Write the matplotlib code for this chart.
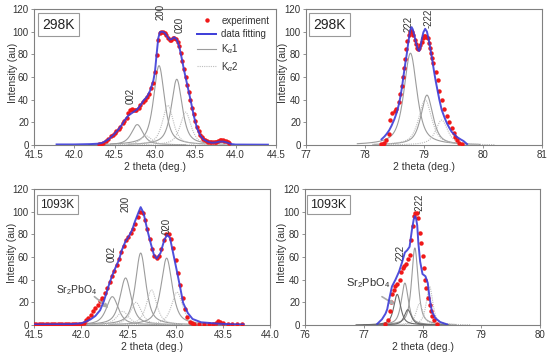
import numpy as np
import matplotlib
matplotlib.use("Agg")
import matplotlib.pyplot as plt
from matplotlib.lines import Line2D

plt.rcParams['font.family'] = ['Liberation Sans', 'DejaVu Sans']
plt.rcParams['mathtext.fontset'] = 'custom'
plt.rcParams['mathtext.rm'] = 'Liberation Sans'
plt.rcParams['mathtext.it'] = 'Liberation Sans:italic'

# ---------------- data: top-left (298K, 41.5-44.5) ----------------
tl_exp_x = [42.30, 42.33, 42.36, 42.39, 42.42, 42.45, 42.48, 42.50, 42.52, 42.55, 42.57, 42.60, 42.62,
            42.65, 42.67, 42.69, 42.71, 42.73, 42.75, 42.77, 42.80, 42.82, 42.85, 42.87, 42.90, 42.92,
            42.95, 42.97, 43.00, 43.02, 43.04, 43.06, 43.08, 43.10, 43.12, 43.14, 43.16, 43.18, 43.20,
            43.22, 43.24, 43.26, 43.28, 43.30, 43.32, 43.34, 43.36, 43.38, 43.40, 43.42, 43.44, 43.46,
            43.48, 43.50, 43.52, 43.54, 43.56, 43.58, 43.60, 43.62, 43.64, 43.66, 43.68, 43.70, 43.72,
            43.74, 43.76, 43.78, 43.80, 43.82, 43.84, 43.86, 43.88, 43.90, 43.92]
tl_exp_y = [0.5, 1, 2, 3.5, 5.5, 7.5, 9, 10.5, 12, 14.5, 16, 19, 21,
            24, 28, 31, 32, 31, 30.5, 31, 33, 35, 38, 40, 42, 45,
            50, 55, 64, 79, 93, 99, 100, 99.5, 98.5, 97, 94.5, 93, 93,
            94, 94.5, 93.5, 91, 87, 81, 74, 67, 60, 53, 47, 40, 33,
            27, 21, 16, 12, 9, 7, 5.5, 4.5, 3.5, 3, 2.5, 2.5, 2.5,
            2.5, 3, 3.5, 4, 4, 4, 3.5, 3.5, 3, 1.5]
tl_fit_x = [41.78, 42.0, 42.2, 42.3, 42.35, 42.4, 42.45, 42.5, 42.55, 42.59, 42.63, 42.67, 42.7, 42.74,
            42.78, 42.82, 42.86, 42.9, 42.94, 42.98, 43.0, 43.02, 43.04, 43.06, 43.09, 43.12, 43.15,
            43.18, 43.21, 43.24, 43.27, 43.3, 43.33, 43.36, 43.4, 43.44, 43.48, 43.52, 43.56, 43.6,
            43.65, 43.7, 43.75, 43.8, 43.85, 43.9, 43.95, 44.0, 44.4]
tl_fit_y = [0.5, 0.5, 0.8, 1.2, 2, 4, 6.5, 10, 14, 18, 22.5, 26, 27.5, 29.5,
            31.5, 35, 39.5, 42.5, 48, 57, 65, 80, 94, 99.5, 100, 99, 96,
            93, 93.5, 95, 93, 87, 77, 66, 53, 40, 26, 15, 8.5, 5,
            3, 2, 2.2, 3, 3, 2, 0.8, 0.4, 0.3]
tl_ka1 = [(42.78, 18, 0.17), (43.05, 70, 0.16), (43.27, 58, 0.16)]
tl_ka2 = [(42.89, 8, 0.17), (43.16, 35, 0.16), (43.38, 29, 0.16)]
tl_labels = [("002", 42.70, 43), ("200", 43.07, 117), ("020", 43.31, 106)]

# ---------------- data: top-right (298K, 77-81) ----------------
tr_exp_x = [78.27, 78.30, 78.33, 78.36, 78.40, 78.43, 78.46, 78.50, 78.53, 78.57, 78.60, 78.62, 78.64,
            78.66, 78.68, 78.70, 78.72, 78.74, 78.76, 78.78, 78.80, 78.82, 78.84, 78.86, 78.88, 78.90,
            78.92, 78.94, 78.96, 78.98, 79.00, 79.02, 79.04, 79.06, 79.08, 79.10, 79.12, 79.14, 79.16,
            79.20, 79.23, 79.26, 79.30, 79.34, 79.39, 79.43, 79.47, 79.50, 79.53, 79.56, 79.60, 79.64]
tr_exp_y = [0.5, 0.8, 2, 4, 10, 22, 28, 30, 32, 38, 45, 52, 60,
            68, 76, 85, 92, 97, 100, 101, 100, 97, 93, 89, 86, 85,
            86, 88, 91, 94, 96, 96, 95.5, 94, 90, 86, 81, 77, 72,
            64, 57, 48, 40, 32, 26, 20, 15, 11, 7, 4, 1.5, 0.5]
tr_fit_x = [78.28, 78.33, 78.37, 78.41, 78.45, 78.5, 78.54, 78.57, 78.6, 78.63, 78.65, 78.68, 78.71,
            78.73, 78.75, 78.77, 78.79, 78.81, 78.84, 78.87, 78.9, 78.92, 78.94, 78.96, 78.99, 79.02,
            79.05, 79.08, 79.11, 79.14, 79.17, 79.2, 79.23, 79.26, 79.3, 79.35, 79.39, 79.43, 79.47,
            79.52, 79.56, 79.62, 79.67, 79.73]
tr_fit_y = [5, 7.5, 10, 13, 17, 23, 29, 35, 42.5, 52, 60, 71, 81,
            89, 96, 102, 104, 102, 96, 89, 84, 83, 86, 93, 99.5, 102.5,
            100, 93, 84, 75, 65, 56, 48, 40, 31, 24, 19, 15, 11.5,
            9, 7, 5, 3.5, 0.8]
tr_ka1 = [(78.77, 81, 0.26), (79.05, 44, 0.24)]
tr_ka2 = [(79.02, 40, 0.26), (79.30, 22, 0.24)]
tr_labels = [("222", 78.74, 107), ("-222", 79.08, 112)]

# ---------------- data: bottom-left (1093K, 41.5-44.0) ----------------
bl_exp_x = [41.500, 41.525, 41.550, 41.575, 41.600, 41.625, 41.650, 41.675, 41.700, 41.725, 41.750,
            41.775, 41.800, 41.825, 41.850, 41.875, 41.900, 41.925, 41.950, 41.975, 42.000,
            42.025, 42.050, 42.075, 42.100, 42.125, 42.150, 42.175, 42.200, 42.225, 42.250, 42.275,
            42.300, 42.325, 42.350, 42.375, 42.400, 42.425, 42.450, 42.475, 42.500, 42.525, 42.550,
            42.575, 42.600, 42.625, 42.650, 42.675, 42.700, 42.725, 42.750, 42.775, 42.800, 42.825,
            42.850, 42.875, 42.900, 42.925, 42.950, 42.975, 43.000, 43.025, 43.050, 43.075, 43.100,
            43.125, 43.150, 43.175, 43.200, 43.250, 43.300, 43.350, 43.400, 43.425, 43.450, 43.475,
            43.500, 43.550, 43.600, 43.650, 43.700]
bl_exp_y = [0.5, 0.5, 0.5, 0.5, 0.5, 0.5, 0.5, 0.5, 0.5, 0.5, 0.5,
            0.5, 0.5, 0.5, 0.5, 0.5, 0.5, 0.5, 0.5, 0.5, 0.8,
            2, 4, 6.5, 9, 12, 15, 18, 21, 24, 28, 33,
            38, 43, 48, 53, 58, 64, 70, 75, 78, 81, 85,
            89, 95, 100, 99, 93, 85, 76, 67, 61, 59, 61,
            67, 75, 80, 80.5, 76, 68, 57, 46, 35, 24, 14,
            7, 3, 1.5, 0.5, 0.5, 0.5, 0.5, 0.6, 2, 3.5, 3,
            1.5, 0.5, 0.5, 0.5, 0.5]
bl_fit_x = [41.5, 41.9, 41.96, 42.0, 42.05, 42.1, 42.15, 42.2, 42.24, 42.27, 42.3, 42.33, 42.36, 42.4,
            42.43, 42.47, 42.5, 42.54, 42.57, 42.61, 42.63, 42.66, 42.7, 42.74, 42.77, 42.8, 42.84,
            42.88, 42.91, 42.94, 42.97, 43.01, 43.05, 43.08, 43.13, 43.18, 43.27, 43.45, 43.6, 43.72]
bl_fit_y = [0.5, 0.8, 1.2, 1.5, 3, 5, 8, 13, 21, 29, 37, 44, 50, 57.5,
            66, 74, 77.5, 84, 91.5, 100, 104, 99, 84, 71, 62, 58.5, 63.5,
            75, 79.5, 77, 65, 49, 32.5, 19.5, 10.5, 5.3, 2.4, 1.2, 0.6, 0.5]
bl_ka1 = [(42.33, 25, 0.15), (42.47, 41.5, 0.14), (42.63, 63.5, 0.13), (42.905, 59, 0.14)]
bl_ka2 = [(42.44, 12, 0.15), (42.58, 20, 0.14), (42.745, 31, 0.13), (43.015, 29, 0.14)]
bl_labels = [("002", 42.32, 63), ("200", 42.47, 107), ("020", 42.91, 87)]

# ---------------- data: bottom-right (1093K, 76-80) ----------------
br_exp_x = [77.36, 77.41, 77.44, 77.46, 77.48, 77.51, 77.54, 77.57, 77.61, 77.64, 77.66, 77.68, 77.72,
            77.75, 77.79, 77.81, 77.83, 77.85, 77.88, 77.91, 77.92, 77.95, 77.97, 78.00, 78.02, 78.04,
            78.06, 78.09, 78.12, 78.14, 78.17, 78.20, 78.25]
br_exp_y = [1, 4, 12, 20, 27, 31, 34, 36, 40, 47, 50, 52, 54,
            58, 62, 75, 87, 96, 99, 99, 94, 81, 72.5, 61, 50, 40,
            33, 24, 18, 12, 7.6, 4, 1]
br_fit_x = [77.23, 77.31, 77.37, 77.40, 77.43, 77.48, 77.54, 77.60, 77.65, 77.70, 77.74, 77.78, 77.82,
            77.85, 77.87, 77.89, 77.91, 77.93, 77.96, 78.00, 78.05, 78.09, 78.12, 78.16, 78.22, 78.30,
            78.42]
br_fit_y = [1, 5, 10, 14, 22, 34, 40, 47, 55, 64, 66, 69, 84,
            93, 96, 94, 88, 72, 56, 45, 43, 37, 24, 12, 6, 2.6,
            0.5]
br_ka1 = [(77.70, 37, 0.14), (77.87, 68, 0.13)]
br_ka2 = [(77.95, 19, 0.14), (78.12, 34, 0.13)]
br_phase = [(77.57, 27, 0.14), (77.75, 13.5, 0.14)]
br_labels = [("222", 77.62, 64), ("-222", 77.95, 107)]

RED = '#f01818'
BLUE = '#3c3cd8'
GRAY1 = '#9c9c9c'
GRAY2 = '#bdbdbd'
DARK = '#6a6a6a'
SPINE = '#808080'


def pv(x, c, h, w, eta=0.7):
    g = np.exp(-4 * np.log(2) * ((x - c) / w) ** 2)
    l = 1.0 / (1 + 4 * ((x - c) / w) ** 2)
    return h * (eta * l + (1 - eta) * g)


fig = plt.figure(figsize=(5.5, 3.61), dpi=100)

panels = [
    dict(pos=[34/550, 1-145/361, 242/550, 136/361], xlim=(41.5, 44.5), xt=np.arange(41.5, 44.51, 0.5), fmt='%.1f',
         ex=tl_exp_x, ey=tl_exp_y, fx=tl_fit_x, fy=tl_fit_y, k1=tl_ka1, k2=tl_ka2, ph=[], labels=tl_labels,
         tag='298K', tagsize=10, span=0.6, ylx=-0.068),
    dict(pos=[306/550, 1-145/361, 236/550, 136/361], xlim=(77, 81), xt=np.arange(77, 81.1, 1), fmt='%d',
         ex=tr_exp_x, ey=tr_exp_y, fx=tr_fit_x, fy=tr_fit_y, k1=tr_ka1, k2=tr_ka2, ph=[], labels=tr_labels,
         tag='298K', tagsize=10, span=0.9, ylx=-0.075),
    dict(pos=[34/550, 1-325/361, 236/550, 136/361], xlim=(41.5, 44.0), xt=np.arange(41.5, 44.01, 0.5), fmt='%.1f',
         ex=bl_exp_x, ey=bl_exp_y, fx=bl_fit_x, fy=bl_fit_y, k1=bl_ka1, k2=bl_ka2, ph=[], labels=bl_labels,
         tag='1093K', tagsize=8.5, span=0.6, ylx=-0.07),
    dict(pos=[305/550, 1-325/361, 235/550, 136/361], xlim=(76, 80), xt=np.arange(76, 80.1, 1), fmt='%d',
         ex=br_exp_x, ey=br_exp_y, fx=br_fit_x, fy=br_fit_y, k1=br_ka1, k2=br_ka2, ph=br_phase, labels=br_labels,
         tag='1093K', tagsize=9, span=0.7, ylx=-0.075),
]

axes = []
for p in panels:
    ax = fig.add_axes(p['pos'])
    axes.append(ax)
    for (c, h, w) in p['k1']:
        xx = np.linspace(c - p['span'], c + p['span'], 300)
        ax.plot(xx, pv(xx, c, h, w), color=GRAY1, lw=0.8, zorder=2)
    for (c, h, w) in p['k2']:
        xx = np.linspace(c - p['span'], c + p['span'], 300)
        ax.plot(xx, pv(xx, c, h, w), color=GRAY2, lw=0.8, ls=(0, (1, 1)), zorder=2)
    for (c, h, w) in p['ph']:
        xx = np.linspace(c - p['span'], c + p['span'], 300)
        ax.plot(xx, pv(xx, c, h, w), color=DARK, lw=0.8, zorder=2)
    ax.plot(p['ex'], p['ey'], 'o', color=RED, ms=3.2, mec='none', zorder=3)
    ax.plot(p['fx'], p['fy'], '-', color=BLUE, lw=1.4, zorder=4, alpha=0.9)
    ax.set_xlim(*p['xlim'])
    ax.set_ylim(0, 120)
    ax.set_xticks(p['xt'])
    ax.set_xticklabels([p['fmt'] % v for v in p['xt']])
    ax.set_yticks(np.arange(0, 121, 20))
    for s in ax.spines.values():
        s.set_color(SPINE)
        s.set_linewidth(0.8)
    ax.tick_params(direction='out', length=2.5, width=0.6, color=SPINE, labelsize=7, labelcolor='#333333', pad=1.2)
    ax.set_xlabel('2 theta (deg.)', fontsize=7.5, color='#333333', labelpad=1)
    ax.set_ylabel('Intensity (au)', fontsize=7.5, color='#333333')
    ax.yaxis.set_label_coords(p['ylx'], 0.53)
    for (t, x, y) in p['labels']:
        ax.text(x, y, t, rotation=90, ha='center', va='center', fontsize=7, color='#333333', clip_on=False)
    ax.text(0.1, 0.885, p['tag'], transform=ax.transAxes, ha='center', va='center', fontsize=p['tagsize'],
            color='#222222', bbox=dict(boxstyle='square,pad=0.3', fc='white', ec='#999999', lw=0.8))

# Sr2PbO4 annotations
axes[2].text(41.95, 31, 'Sr$_2$PbO$_4$', fontsize=7.5, color='#333333', ha='center', va='center', zorder=6)
axes[2].annotate('', xy=(42.29, 15), xytext=(42.14, 25),
                 arrowprops=dict(arrowstyle='-|>', color='#aaaaaa', lw=1.2, mutation_scale=6, shrinkA=0, shrinkB=0))
axes[3].text(77.08, 37, 'Sr$_2$PbO$_4$', fontsize=8, color='#333333', ha='center', va='center', zorder=6)
axes[3].annotate('', xy=(77.53, 18), xytext=(77.31, 25),
                 arrowprops=dict(arrowstyle='-|>', color='#aaaaaa', lw=1.2, mutation_scale=6, shrinkA=0, shrinkB=0))

# legend (top-left)
handles = [Line2D([], [], ls='none', marker='o', color=RED, ms=3.2, mec='none'),
           Line2D([], [], color=BLUE, lw=1.4),
           Line2D([], [], color=GRAY1, lw=0.8),
           Line2D([], [], color=GRAY2, lw=0.8, ls=(0, (1, 1)))]
names = ['experiment', 'data fitting', r'K$_{\alpha}$1', r'K$_{\alpha}$2']
axes[0].legend(handles, names, loc='upper right', bbox_to_anchor=(1.0, 1.0), frameon=False, fontsize=7,
               handlelength=2.0, handletextpad=0.5, labelspacing=0.35, borderpad=0.2, labelcolor='#333333')

fig.savefig('out.png', dpi=100)
